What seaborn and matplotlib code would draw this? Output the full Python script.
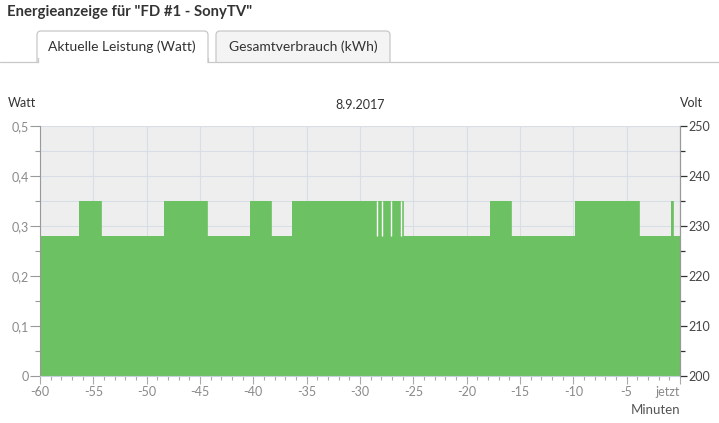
import matplotlib
matplotlib.use("Agg")
import matplotlib.pyplot as plt
import matplotlib.patches as mpatches
from matplotlib.transforms import IdentityTransform
from matplotlib.ticker import MultipleLocator, FixedLocator, FixedFormatter
import seaborn as sns
import pandas as pd

# ---- data ----
change_minutes = [-60, -56.3, -54.3, -48.4, -44.3, -40.3, -38.3, -36.35, -25.94,
                  -17.8, -15.8, -9.84, -3.8, -0.84, -0.63, 0]
watt_values = [0.28, 0.35, 0.28, 0.35, 0.28, 0.35, 0.28, 0.35, 0.28,
               0.35, 0.28, 0.35, 0.28, 0.35, 0.28, 0.28]
gap_minutes = [-28.36, -27.94, -27.1, -26.2]
x_ticks = [-60, -55, -50, -45, -40, -35, -30, -25, -20, -15, -10, -5, 0]
x_ticklabels = ["-60", "-55", "-50", "-45", "-40", "-35", "-30", "-25", "-20",
                "-15", "-10", "-5", "jetzt"]
watt_ticks = [0, 0.1, 0.2, 0.3, 0.4, 0.5]
watt_ticklabels = ["0", "0,1", "0,2", "0,3", "0,4", "0,5"]
volt_ticks = [200, 210, 220, 230, 240, 250]
volt_ticklabels = ["200", "210", "220", "230", "240", "250"]

df = pd.DataFrame({"Minuten": change_minutes, "Watt": watt_values})

sns.set_theme(style="white")
plt.rcParams["font.family"] = ["Lato", "DejaVu Sans"]

W, H = 719, 423
fig = plt.figure(figsize=(W / 100, H / 100), dpi=100)
fig.patch.set_facecolor("white")

GREEN = "#6cc162"

ax = fig.add_axes([40 / W, 1 - 376 / H, 640 / W, 250 / H])
ax.set_facecolor("#eeeeee")
ax.set_axisbelow(True)
ax.fill_between(df["Minuten"], df["Watt"], step="post", color=GREEN, lw=0, zorder=2)
sns.lineplot(data=df, x="Minuten", y="Watt", drawstyle="steps-post", color=GREEN,
             lw=0.6, ax=ax, zorder=3)
ax.vlines(gap_minutes, 0.28, 0.35, color="white", lw=1.0, zorder=4)

ax.set_xlim(-60, 0)
ax.set_ylim(0, 0.5)
ax.set_xlabel("")
ax.set_ylabel("")
ax.xaxis.set_major_locator(FixedLocator(x_ticks))
ax.xaxis.set_major_formatter(FixedFormatter(x_ticklabels))
ax.xaxis.set_minor_locator(MultipleLocator(1))
ax.yaxis.set_major_locator(FixedLocator(watt_ticks))
ax.yaxis.set_major_formatter(FixedFormatter(watt_ticklabels))
ax.yaxis.set_minor_locator(MultipleLocator(0.05))

ax.grid(which="both", axis="y", color="#d9dde5", lw=0.8)
ax.grid(which="major", axis="x", color="#d9dde5", lw=0.8)

ax.tick_params(axis="x", which="major", direction="out", length=5.5, width=0.8,
               color="#aaaaaa", labelcolor="#8a8a8a", labelsize=9, pad=2, bottom=True)
ax.tick_params(axis="x", which="minor", direction="out", length=3, width=0.8,
               color="#aaaaaa", bottom=True)
ax.tick_params(axis="y", which="major", direction="out", length=7, width=0.8,
               color="#999999", labelcolor="#8a8a8a", labelsize=9, pad=1, left=True)
ax.tick_params(axis="y", which="minor", direction="out", length=3.5, width=0.8,
               color="#999999", left=True)

ax.spines["top"].set_visible(False)
ax.spines["left"].set_color("#999999")
ax.spines["left"].set_linewidth(0.8)
ax.spines["bottom"].set_color("#c6d0dd")
ax.spines["bottom"].set_linewidth(0.8)
ax.spines["right"].set_color("#999999")
ax.spines["right"].set_linewidth(0.8)

ax2 = ax.twinx()
ax2.set_ylim(200, 250)
ax2.yaxis.set_major_locator(FixedLocator(volt_ticks))
ax2.yaxis.set_major_formatter(FixedFormatter(volt_ticklabels))
ax2.yaxis.set_minor_locator(MultipleLocator(5))
ax2.tick_params(axis="y", which="major", direction="out", length=5, width=0.9,
                color="#333333", labelcolor="#444444", labelsize=9, pad=1, right=True)
ax2.tick_params(axis="y", which="minor", direction="out", length=3.5, width=0.9,
                color="#333333", right=True)
for side in ["top", "left", "bottom"]:
    ax2.spines[side].set_visible(False)
ax2.spines["right"].set_color("#999999")
ax2.spines["right"].set_linewidth(0.8)
ax2.grid(False)

fig.canvas.draw()
last = ax.get_xticklabels()[-1]
last.set_horizontalalignment("right")

def fy(y):
    return 1 - y / H

fig.text(8 / W, fy(103), "Watt", ha="left", va="center", fontsize=9, color="#333333")
fig.text(360 / W, fy(105), "8.9.2017", ha="center", va="center", fontsize=9, color="#333333")
fig.text(680 / W, fy(103), "Volt", ha="left", va="center", fontsize=9, color="#333333")
fig.text(680 / W, fy(410), "Minuten", ha="right", va="center", fontsize=9.5, color="#555555")

# header & tabs
fig.text(7 / W, fy(12), 'Energieanzeige für "FD #1 - SonyTV"', ha="left", va="center",
         fontsize=10.7, fontweight="bold", color="#333333")

ident = IdentityTransform()
def tab(x0, x1, ytop, face):
    p = mpatches.FancyBboxPatch((x0, H - 72), x1 - x0, (72 - ytop),
                                boxstyle="round,pad=0,rounding_size=4",
                                transform=ident, facecolor=face, edgecolor="#c8c8c8",
                                lw=0.9, zorder=1)
    fig.patches.append(p)

tab(216, 390, 31, "#f4f4f4")
tab(37, 208, 31, "white")
cover = mpatches.Rectangle((0, H - 80), W, 80 - 62.5, transform=ident,
                           facecolor="white", edgecolor="none", zorder=2)
fig.patches.append(cover)
fig.lines.append(plt.Line2D([0, 37.5], [H - 62, H - 62], transform=ident,
                            color="#c8c8c8", lw=0.9, zorder=3))
fig.lines.append(plt.Line2D([207.5, W], [H - 62, H - 62], transform=ident,
                            color="#c8c8c8", lw=0.9, zorder=3))
fig.lines.append(plt.Line2D([37.5, 37.5], [H - 62, H - 58], transform=ident,
                            color="#c8c8c8", lw=0.9, zorder=3))
fig.lines.append(plt.Line2D([207.5, 207.5], [H - 62, H - 58], transform=ident,
                            color="#c8c8c8", lw=0.9, zorder=3))

fig.text(122 / W, fy(47), "Aktuelle Leistung (Watt)", ha="center", va="center",
         fontsize=10, color="#333333", zorder=4)
fig.text(303 / W, fy(47), "Gesamtverbrauch (kWh)", ha="center", va="center",
         fontsize=10, color="#333333", zorder=4)

fig.savefig("out.png", dpi=100, facecolor="white")
